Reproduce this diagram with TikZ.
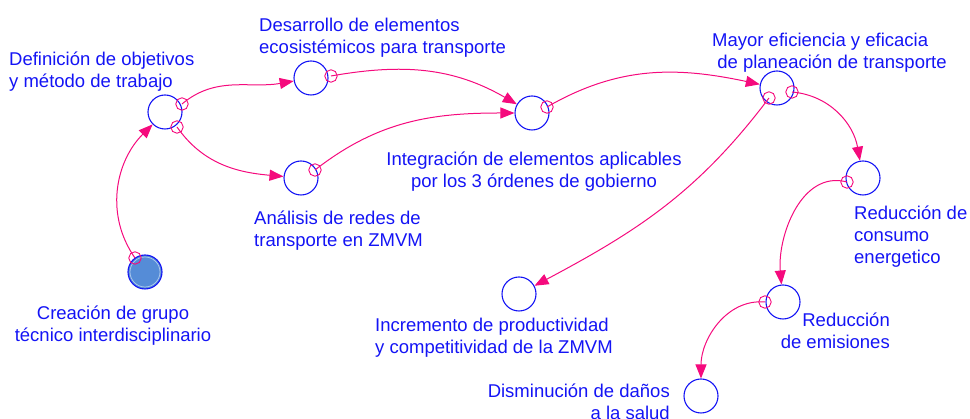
\documentclass[tikz,border=0pt]{standalone}
\usepackage{fontspec}
\setmainfont{Liberation Sans}
\usetikzlibrary{arrows.meta,shapes.geometric}
\definecolor{vblue}{RGB}{20,20,245}
\definecolor{vpink}{RGB}{245,10,125}
\definecolor{vfill}{RGB}{85,140,215}
\begin{document}
\begin{tikzpicture}[x=1pt,y=1pt,
  var/.style={circle,draw=vblue,line width=1.1pt,minimum size=34pt,inner sep=0pt},
  lbl/.style={text=vblue,font=\fontsize{18.5}{22}\selectfont,inner sep=0pt},
  link/.style={draw=vpink,line width=1pt,-{Triangle[length=14pt,width=11pt]}},
  tailmark/.style={regular polygon,regular polygon sides=8,draw=vpink,line width=0.9pt,minimum size=12.5pt,inner sep=0pt,shape border rotate=22.5}]
\useasboundingbox (0,0) rectangle (970,419);

% variables
\node[var] (A) at (165,307) {};
\node[var] (B) at (311,341) {};
\node[var] (C) at (301,241) {};
\node[var] (D) at (532,306) {};
\node[var] (E) at (777,331) {};
\node[var] (F) at (863,241) {};
\node[var] (G) at (783,117) {};
\node[var] (H) at (701,23) {};
\node[var] (I) at (519,125) {};
\node[var,fill=vfill] (J) at (145,147) {};
\draw[white!55!vfill, line width=0.7pt] (J.center) circle (15pt);

% tail markers
\node[tailmark] (mJ) at (135,161) {};
\node[tailmark] (mA1) at (182,315) {};
\node[tailmark] (mA2) at (177,292) {};
\node[tailmark] (mB) at (331,343) {};
\node[tailmark] (mC) at (315,249) {};
\node[tailmark] (mD) at (547,312) {};
\node[tailmark] (mE1) at (792,327) {};
\node[tailmark] (mE2) at (769,321) {};
\node[tailmark] (mF) at (847,237) {};
\node[tailmark] (mG) at (765,117) {};

% links
\draw[link] (mJ.center) to[out=125,in=225] (A);
\draw[link] (mA1.center) to[out=40,in=190] (B);
\draw[link] (mA2.center) to[out=-55,in=175] (C);
\draw[link] (mB.center) to[out=10,in=150] (D);
\draw[link] (mC.center) to[out=38,in=180] (D);
\draw[link] (mD.center) to[out=30,in=168] (E);
\draw[link] (mE1.center) to[out=-5,in=100] (F);
\draw[link] (mE2.center) to[out=-127,in=28] (I);
\draw[link] (mF.center) to[out=165,in=95] (G);
\draw[link] (mG.center) to[out=175,in=90] (H);

% labels (anchor = baseline of last line)
\node[lbl,align=left,anchor=base west] (tA) at (9,331) {Definición de objetivos\\y método de trabajo};
\node[lbl,align=left,anchor=base west] (tB) at (259,365) {Desarrollo de elementos\\ecosistémicos para transporte};
\node[lbl,align=center,anchor=base] (tD) at (534,231) {Integración de elementos aplicables\\por los 3 órdenes de gobierno};
\node[lbl,align=left,anchor=base west] (tC) at (254,172) {Análisis de redes de\\transporte en ZMVM};
\node[lbl,align=center,anchor=base] (tJ) at (113,77) {Creación de grupo\\técnico interdisciplinario};
\node[lbl,align=left,anchor=base west] (tI) at (375,65) {Incremento de productividad\\y competitividad de la ZMVM};
\node[lbl,align=left,anchor=base west] (tE) at (712,350) {Mayor eficiencia y eficacia\\\ de planeación de transporte};
\node[lbl,align=left,anchor=base west] (tF) at (854,155) {Reducción de\\consumo\\energetico};
\node[lbl,align=right,anchor=base east] (tG) at (890,70) {Reducción\\de emisiones};
\node[lbl,align=right,anchor=base east] (tH) at (670,-1) {Disminución de daños\\a la salud};
\end{tikzpicture}
\end{document}
